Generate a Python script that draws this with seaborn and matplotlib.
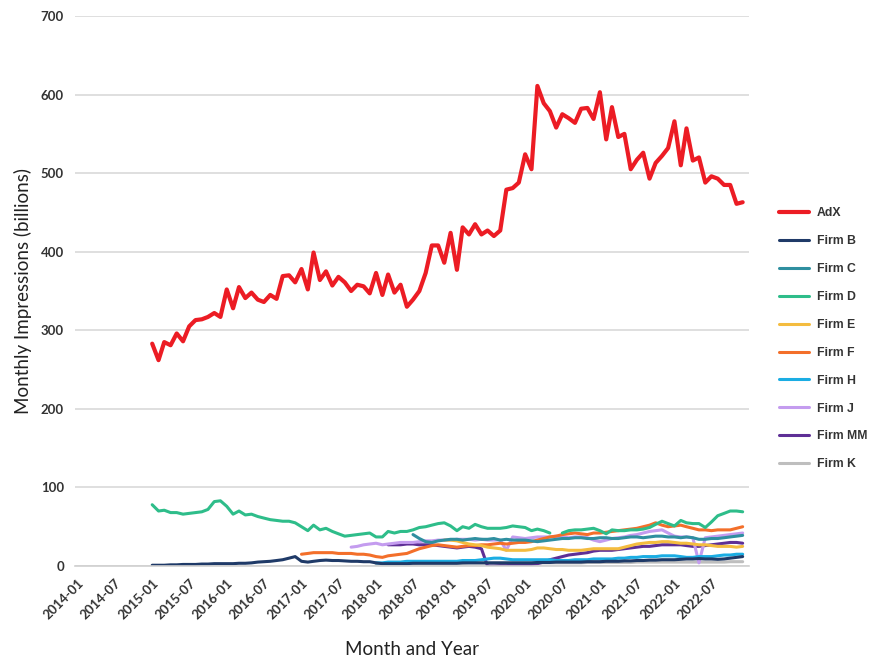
import numpy as np
import pandas as pd
import matplotlib
matplotlib.use("Agg")
import matplotlib.pyplot as plt
import seaborn as sns

N = np.nan
months = pd.date_range("2015-01-01", periods=96, freq="MS")

adx = [283, 262, 285, 281, 296, 286, 305, 313, 314, 317, 322, 317,
       352, 328, 355, 341, 348, 339, 336, 345, 340, 369, 370, 361,
       378, 352, 399, 364, 375, 357, 368, 361, 350, 358, 356, 347,
       373, 345, 371, 348, 358, 330, 339, 350, 373, 408, 408, 386,
       424, 377, 431, 422, 435, 422, 427, 420, 427, 479, 481, 488,
       524, 505, 611, 589, 579, 558, 575, 570, 564, 582, 583, 569,
       603, 543, 584, 546, 550, 505, 517, 526, 493, 513, 522, 532,
       566, 510, 557, 516, 520, 488, 496, 493, 485, 485, 461, 463]

firm_b = [1, 1, 1, 1.5, 1.5, 2, 2, 2, 2.5, 2.5, 3, 3,
          3, 3, 3.5, 3.5, 4, 5, 5.5, 6, 7, 8, 10, 12,
          6, 5, 6, 7, 7.5, 7, 7, 6.5, 6, 6, 5.5, 5.5,
          4, 3, 3, 3, 3, 3, 3.5, 3.5, 3.5, 3.5, 3.5, 3.5,
          3.5, 3.5, 4, 4, 4, 4, 4, 4, 4, 4, 4, 4,
          4, 4, 4.5, 4.5, 4.5, 5, 5, 5, 5, 5, 5.5, 5.5,
          5.5, 6, 6, 6, 6.5, 6.5, 7, 7, 7.5, 7.5, 8, 8,
          8, 8.5, 9, 9, 9.5, 9, 9, 8.5, 9, 10, 11, 12]

firm_c = [N] * 42 + [40, 35, 31, 30, 32, 33,
          34, 34, 33, 34, 35, 34, 34, 35, 33, 34, 33, 33,
          33, 32, 31, 32, 33, 34, 35, 35, 36, 36, 35, 35,
          36, 36, 35, 35, 36, 37, 37, 36, 37, 38, 38, 37,
          37, 36, 37, 36, 34, 34, 35, 35, 36, 37, 38, 39]

firm_d = [78, 70, 71, 68, 68, 66, 67, 68, 69, 72, 82, 83,
          76, 66, 70, 65, 66, 63, 61, 59, 58, 57, 57, 55,
          50, 45, 52, 46, 48, 44, 41, 38, 39, 40, 41, 42,
          37, 37, 44, 42, 44, 44, 46, 49, 50, 52, 54, 55,
          51, 45, 50, 48, 53, 50, 48, 48, 48, 49, 51, 50,
          49, 45, 47, 45, 42, N, 42, 45, 46, 46, 47, 48,
          45, 41, 46, 45, 45, 46, 46, 47, 49, 53, 57, 54,
          51, 58, 55, 54, 54, 49, 56, 64, 67, 70, 70, 69]

firm_e = [N] * 47 + [33,
          33, 32, 30, 28, 27, 26, 24, 23, 22, 20, 20, 20,
          20, 21, 23, 23, 22, 21, 21, 20, 20, 20, 21, 22,
          22, 22, 22, 22, 24, 26, 28, 29, 30, 30, 31, 31,
          30, 29, 29, 28, 27, 27, 26, 25, 25, 25, 24, 25]

firm_f = [N] * 24 + [15, 16, 17, 17, 17, 17, 16, 16, 16, 15, 15, 14,
          12, 11, 13, 14, 15, 16, 19, 22, 24, 26, 27, 26,
          25, 24, 25, 26, 26, 27, 27, 28, 29, 28, 29, 30,
          30, 31, 33, 35, 37, 38, 40, 41, 42, 41, 40, 42,
          42, 43, 44, 45, 46, 47, 48, 50, 52, 55, 52, 50,
          51, 52, 50, 48, 46, 46, 45, 46, 46, 46, 48, 50]

firm_h = [N] * 36 + [4, 4, 5, 5, 5, 6, 6, 6, 6, 6, 6, 6,
          6, 6, 7, 7, 7, 8, 9, 10, 10, 9, 8, 8,
          8, 8, 8, 8, 8, 7, 7, 7, 8, 8, 8, 9,
          9, 9, 9, 10, 10, 11, 11, 12, 12, 12, 13, 13,
          13, 12, 11, 11, 12, 12, 12, 13, 14, 14, 15, 15]

firm_j = [N] * 32 + [24, 25, 27, 28,
          29, 27, 28, 29, 30, 30, 30, 31, 32, 32, 33, 33,
          33, 34, 34, 34, 33, 34, 33, 33, 33, 20, 37, 36,
          35, 36, 37, 37, 37, 38, 37, 36, 37, 37, 36, 33,
          31, 33, 35, 36, 37, 39, 40, 42, 44, 45, 46, 42,
          38, 37, 37, 36, 4, 36, 37, 38, 39, 40, 41, 42]

firm_mm = [N] * 38 + [27, 27, 27, 28, 28, 27, 27, 27, 26, 25,
           24, 23, 24, 25, 24, 22, 0, 0, 0.5, 0.5, 1, 1,
           1, 2, 3, 5, 8, 10, 12, 14, 15, 16, 17, 19,
           20, 20, 20, 21, 22, 23, 24, 25, 25, 26, 27, 27,
           27, 27, 26, 25, 25, 26, 27, 28, 29, 30, 30, 29]

firm_k = [N] * 36 + [3, 3, 3, 3, 3, 3, 3, 3.5, 3.5, 3.5, 3.5, 3.5,
          3.5, 3.5, 3.5, 4, 4, 4, 4, 4, 4, 4, 4, 4,
          4, 4, 4, 4, 4, 4, 4, 4, 4, 4, 4.5, 4.5,
          4.5, 4.5, 4.5, 4.5, 4.5, 4.5, 5, 5, 5, 5, 5, 5,
          5, 5, 5, 5, 5, 5, 5, 5, 5, 5.5, 5.5, 5.5]

firms = ["AdX", "Firm B", "Firm C", "Firm D", "Firm E", "Firm F",
         "Firm H", "Firm J", "Firm MM", "Firm K"]
series = [adx, firm_b, firm_c, firm_d, firm_e, firm_f,
          firm_h, firm_j, firm_mm, firm_k]
colors = ["#EC1C24", "#1F3A68", "#2F8FA0", "#2EBD8A", "#F4BC3F", "#F36F2A",
          "#1BADE3", "#C49CEF", "#5E2F96", "#BEBEBE"]

sns.set_style("white")
plt.rcParams['font.family'] = ['Lato', 'DejaVu Sans']

fig = plt.figure(figsize=(8.69, 6.59), dpi=100)
ax = fig.add_axes([0.0863, 0.1411, 0.7756, 0.8346])

# draw firms in reverse so AdX sits on top; split at missing months so gaps stay
for name, vals, col in list(zip(firms, series, colors))[::-1]:
    d = pd.DataFrame({"month": months, "value": vals})
    d["seg"] = d["value"].isna().cumsum()
    d = d.dropna()
    lw = 3.0 if name == "AdX" else 2.2
    for i, (_, part) in enumerate(d.groupby("seg")):
        sns.lineplot(data=part, x="month", y="value", color=col, linewidth=lw,
                     label=name if i == 0 else None, ax=ax)

ax.set_ylim(0, 700)
ax.set_yticks(range(0, 701, 100))
ax.set_xlim(pd.Timestamp("2013-12-19"), pd.Timestamp("2023-01-01"))
ticks = pd.date_range("2014-01-01", "2023-01-01", freq="6MS")
ax.set_xticks(ticks)
ax.set_xticklabels([t.strftime("%Y-%m") for t in ticks[:-1]] + [""],
                   rotation=45, ha="right", rotation_mode="anchor",
                   fontsize=9.5, fontweight="bold", color="#333333")
for lab in ax.get_yticklabels():
    lab.set_fontsize(9.5)
    lab.set_fontweight("bold")
    lab.set_color("#333333")

ax.grid(axis="y", color="#D9D9D9", linewidth=1.2)
ax.grid(axis="x", visible=False)
for s in ["top", "right", "left"]:
    ax.spines[s].set_visible(False)
ax.spines["bottom"].set_color("#D0D0D0")
ax.spines["bottom"].set_linewidth(1.2)
ax.tick_params(axis="x", direction="out", length=5, color="#D0D0D0", pad=3)
ax.tick_params(axis="y", length=0, pad=8)

ax.set_xlabel("Month and Year", fontsize=13.5, color="#222222", labelpad=14)
ax.set_ylabel("Monthly Impressions (billions)", fontsize=13.5, color="#222222", labelpad=6)

handles, labels = ax.get_legend_handles_labels()
order = [labels.index(f) for f in firms]
leg = ax.legend([handles[i] for i in order], [labels[i] for i in order],
                loc="upper left", bbox_to_anchor=(0.884, 0.702),
                bbox_transform=fig.transFigure, frameon=False,
                prop={"family": "Liberation Sans", "weight": "bold", "size": 8.8},
                handlelength=2.4, handletextpad=0.7, labelspacing=1.3)
for t in leg.get_texts():
    t.set_color("#333333")

fig.savefig("out.png", dpi=100)
